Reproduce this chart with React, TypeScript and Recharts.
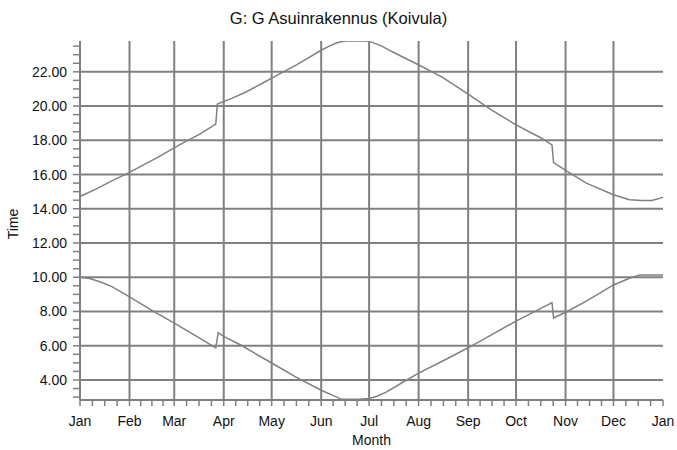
import React from "react";
import { LineChart, Line, XAxis, YAxis, CartesianGrid, Label } from "recharts";

// day-of-year where each month starts (last one = next Jan)
const monthStarts = [0, 31, 59, 90, 120, 151, 181, 212, 243, 273, 304, 334, 365];
const monthLabels = ["Jan", "Feb", "Mar", "Apr", "May", "Jun", "Jul", "Aug", "Sep", "Oct", "Nov", "Dec", "Jan"];

const yMajorTicks = [4, 6, 8, 10, 12, 14, 16, 18, 20, 22];

// sunset (upper curve)
const sunsetDays = [0, 10, 19, 30, 37.5, 50, 62.5, 75, 85, 86, 95, 104, 116.5, 120, 135.5, 143, 151, 156, 160.5, 164, 167, 179.5, 183, 189, 195.5, 211.5, 226.5, 243, 257.5, 273, 289, 295.5, 296.5, 305, 317, 334, 344, 352, 358, 362, 365];
const sunsetTimes = [14.72, 15.15, 15.59, 16.08, 16.45, 17.08, 17.75, 18.36, 18.95, 20.12, 20.45, 20.82, 21.45, 21.63, 22.4, 22.82, 23.26, 23.5, 23.68, 23.77, 23.8, 23.8, 23.72, 23.5, 23.17, 22.43, 21.7, 20.7, 19.77, 18.9, 18.12, 17.73, 16.7, 16.18, 15.5, 14.82, 14.53, 14.49, 14.49, 14.58, 14.68];

// sunrise (lower curve)
const sunriseDays = [0, 6, 12.5, 20, 31, 45, 59, 72, 85, 86.5, 90, 100, 120, 135.5, 151, 159, 164, 175, 181, 186, 192, 200, 212, 228, 243, 257, 273, 295.5, 296.5, 305, 317, 334, 344, 350.5, 365];
const sunriseTimes = [10.0, 9.93, 9.74, 9.45, 8.85, 8.07, 7.32, 6.6, 5.88, 6.76, 6.55, 6.07, 4.99, 4.15, 3.4, 3.07, 2.87, 2.87, 2.92, 3.05, 3.3, 3.75, 4.4, 5.15, 5.88, 6.6, 7.44, 8.52, 7.62, 8.0, 8.6, 9.55, 9.94, 10.13, 10.13];

const sunsetData = sunsetDays.map((d, i) => ({ day: d, t: sunsetTimes[i] }));
const sunriseData = sunriseDays.map((d, i) => ({ day: d, t: sunriseTimes[i] }));

// minor ticks: quarter months on x, half hours on y
const xTicks: number[] = [];
for (let i = 0; i < 12; i++) {
  const len = monthStarts[i + 1] - monthStarts[i];
  for (let k = 0; k < 4; k++) xTicks.push(monthStarts[i] + (k * len) / 4);
}
xTicks.push(365);
const yTicks: number[] = [];
for (let v = 3; v <= 23.5; v += 0.5) yTicks.push(v);

const GRAY = "#808080";
const TEXT = "#111";
const FONT = "'Liberation Sans', Arial, sans-serif";

const XTick = ({ x, y, payload }: any) => {
  const idx = monthStarts.indexOf(payload.value);
  if (idx < 0) return <g />;
  return (
    <text x={x} y={y} dy="0.71em" textAnchor="middle" fontSize={14} fill={TEXT} fontFamily={FONT}>
      {monthLabels[idx]}
    </text>
  );
};

const YTick = ({ x, y, payload }: any) => {
  if (!yMajorTicks.includes(payload.value)) return <g />;
  return (
    <text x={x} y={y} dy="0.355em" textAnchor="end" fontSize={14} fill={TEXT} fontFamily={FONT}>
      {payload.value.toFixed(2)}
    </text>
  );
};

export default function App() {
  return (
    <div style={{ position: "absolute", left: 0, top: 0, width: 677, height: 450, background: "#fff", fontFamily: FONT }}>
      <div
        style={{
          position: "absolute",
          top: 8,
          left: 0,
          width: 677,
          textAlign: "center",
          fontSize: 16.5,
          lineHeight: "20px",
          color: TEXT,
        }}
      >
        G: G Asuinrakennus (Koivula)
      </div>
      <LineChart width={677} height={450} margin={{ top: 41, right: 14, left: 0, bottom: 0 }}>
        <CartesianGrid
          stroke={GRAY}
          strokeWidth={2}
          horizontalValues={yMajorTicks}
          verticalValues={monthStarts.slice(1, 12)}
        />
        <XAxis
          type="number"
          dataKey="day"
          domain={[0, 365]}
          allowDataOverflow
          ticks={xTicks}
          interval={0}
          height={50}
          tickSize={6}
          tickMargin={10}
          tick={<XTick />}
          tickLine={{ stroke: GRAY, strokeWidth: 1.5 }}
          axisLine={{ stroke: GRAY, strokeWidth: 2 }}
        >
          <Label
            content={() => (
              <text x={371.5} y={445} textAnchor="middle" fontSize={14} fill={TEXT} fontFamily={FONT}>
                Month
              </text>
            )}
          />
        </XAxis>
        <YAxis
          type="number"
          domain={[2.83, 23.8]}
          allowDataOverflow
          ticks={yTicks}
          interval={0}
          width={80}
          tickSize={7}
          tickMargin={6}
          tick={<YTick />}
          tickLine={{ stroke: GRAY, strokeWidth: 1.5 }}
          axisLine={{ stroke: GRAY, strokeWidth: 2 }}
        >
          <Label
            content={() => (
              <text
                x={18}
                y={224}
                transform="rotate(-90, 18, 224)"
                textAnchor="middle"
                fontSize={14}
                fill={TEXT}
                fontFamily={FONT}
              >
                Time
              </text>
            )}
          />
        </YAxis>
        <Line
          data={sunsetData}
          dataKey="t"
          type="linear"
          stroke={GRAY}
          strokeWidth={1.5}
          dot={false}
          isAnimationActive={false}
        />
        <Line
          data={sunriseData}
          dataKey="t"
          type="linear"
          stroke={GRAY}
          strokeWidth={1.5}
          dot={false}
          isAnimationActive={false}
        />
      </LineChart>
    </div>
  );
}
